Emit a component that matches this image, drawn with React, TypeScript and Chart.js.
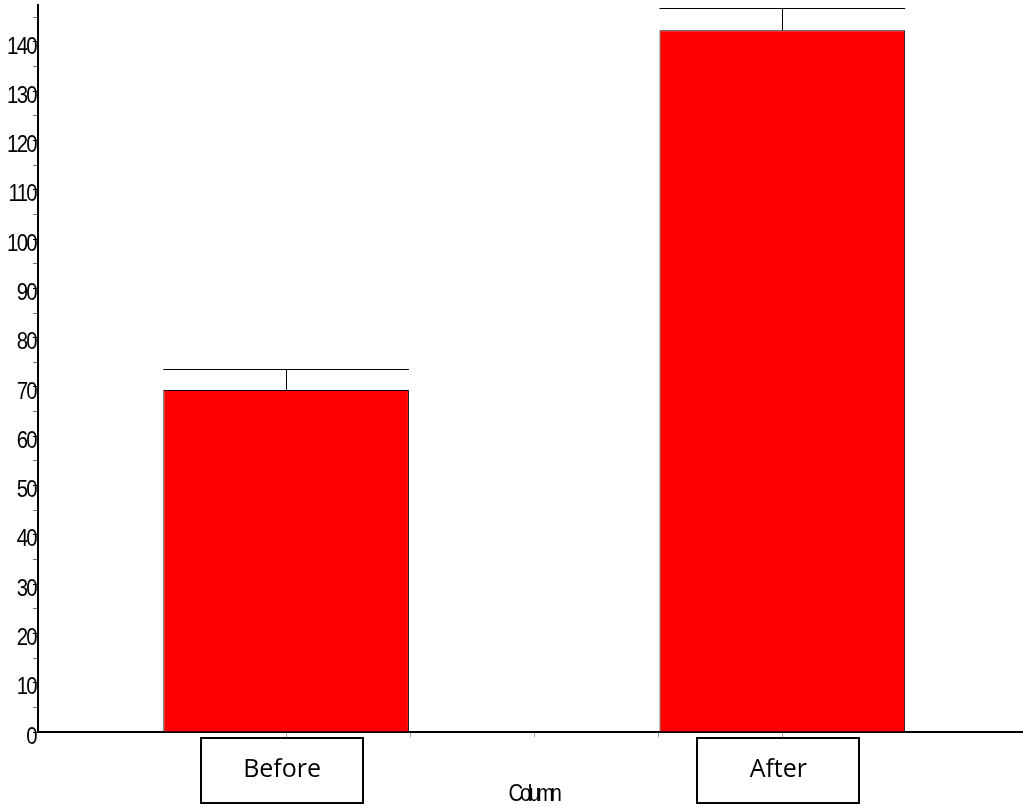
import React, { useEffect, useRef } from 'react';
import { Chart, registerables } from 'chart.js';

Chart.register(...registerables);

const categories = ['Before', 'After'];
const categoryPositions = [1, 5];
const means = [69.4, 142.4];
const errorTops = [73.6, 146.9];
const axisTitle = 'Column';
const yMax = 147.5;

const drawSquished = (
  ctx: CanvasRenderingContext2D,
  text: string,
  x: number,
  y: number,
  align: 'right' | 'center',
  sx: number,
  spacing: string
) => {
  ctx.save();
  ctx.translate(x, y);
  ctx.scale(sx, 1);
  (ctx as any).letterSpacing = spacing;
  ctx.textAlign = align;
  ctx.textBaseline = 'middle';
  ctx.fillText(text, 0, 0);
  ctx.restore();
};

const overlayPlugin = {
  id: 'overlay',
  afterDatasetsDraw(chart: any) {
    const ctx: CanvasRenderingContext2D = chart.ctx;
    const ys = chart.scales.y;
    const meta = chart.getDatasetMeta(0);
    ctx.save();
    ctx.strokeStyle = '#000';
    ctx.lineWidth = 1;
    meta.data.forEach((bar: any, i: number) => {
      const cx = Math.round(bar.x) + 0.5;
      const half = bar.width / 2;
      const yTop = Math.round(ys.getPixelForValue(errorTops[i])) + 0.5;
      const yBar = ys.getPixelForValue(means[i]);
      ctx.beginPath();
      ctx.moveTo(cx, yBar);
      ctx.lineTo(cx, yTop);
      ctx.moveTo(bar.x - half, yTop);
      ctx.lineTo(bar.x + half, yTop);
      ctx.stroke();
    });
    ctx.restore();
  },
  afterDraw(chart: any) {
    const ctx: CanvasRenderingContext2D = chart.ctx;
    const xs = chart.scales.x;
    const ys = chart.scales.y;
    const area = chart.chartArea;
    ctx.save();
    // y tick labels
    ctx.fillStyle = '#000';
    ctx.font = '24px "Liberation Sans", Arial, sans-serif';
    ys.ticks.forEach((t: any) => {
      if (t.value % 10 === 0) {
        drawSquished(ctx, String(t.value), area.left - 2, ys.getPixelForValue(t.value) + 5, 'right', 0.85, '-2px');
      }
    });
    // category boxes
    ctx.lineWidth = 2;
    ctx.strokeStyle = '#000';
    ctx.font = '25px "Open Sans", sans-serif';
    ctx.textAlign = 'center';
    ctx.textBaseline = 'middle';
    categories.forEach((c, i) => {
      const px = xs.getPixelForValue(categoryPositions[i]) - 4;
      const bx = Math.round(px - 81);
      ctx.fillStyle = '#fff';
      ctx.fillRect(bx, 738, 162, 65);
      ctx.strokeRect(bx, 738, 162, 65);
      ctx.fillStyle = '#000';
      ctx.fillText(c, px, 770);
    });
    // axis title
    ctx.font = '24px "Liberation Sans", Arial, sans-serif';
    drawSquished(ctx, axisTitle, (area.left + area.right) / 2 + 3, 794, 'center', 0.85, '-4px');
    ctx.restore();
  },
};

export default function App() {
  const ref = useRef<HTMLCanvasElement>(null);
  useEffect(() => {
    if (!ref.current) return;
    const chart = new Chart(ref.current, {
      type: 'bar',
      data: {
        datasets: [
          {
            data: categoryPositions.map((x, i) => ({ x, y: means[i] })),
            backgroundColor: '#ff0000',
            borderColor: '#000',
            borderWidth: 1,
            barPercentage: 1.98,
            categoryPercentage: 1,
          },
        ],
      },
      options: {
        responsive: false,
        animation: false,
        layout: { padding: { top: 5, left: 0, right: 0, bottom: 0 } },
        plugins: { legend: { display: false }, tooltip: { enabled: false }, title: { display: false } },
        scales: {
          x: {
            type: 'linear',
            offset: false,
            min: -1,
            max: 6.94,
            afterBuildTicks: (s: any) => {
              s.ticks = [1, 2, 3, 4, 5].map((v) => ({ value: v }));
            },
            afterFit: (s: any) => {
              s.height = 78;
            },
            ticks: { display: false, stepSize: 1 },
            grid: { offset: false, drawOnChartArea: false, tickLength: 5, color: '#999', tickColor: '#999' },
            border: { color: '#000', width: 2 },
          },
          y: {
            type: 'linear',
            min: 0,
            max: yMax,
            afterBuildTicks: (s: any) => {
              const t = [];
              for (let v = 0; v <= 145; v += 5) t.push({ value: v });
              s.ticks = t;
            },
            afterFit: (s: any) => {
              s.width = 38;
            },
            ticks: { display: false, stepSize: 5 },
            grid: {
              drawOnChartArea: false,
              tickLength: 5,
              tickColor: (c: any) => (c.tick && c.tick.value % 10 === 0 ? '#000' : '#777'),
            },
            border: { color: '#000', width: 2 },
          },
        },
      },
      plugins: [overlayPlugin],
    });
    return () => chart.destroy();
  }, []);
  return (
    <div style={{ position: 'absolute', left: 0, top: 0, width: 1023, height: 810, background: '#fff' }}>
      <canvas ref={ref} width={1023} height={810} />
    </div>
  );
}
